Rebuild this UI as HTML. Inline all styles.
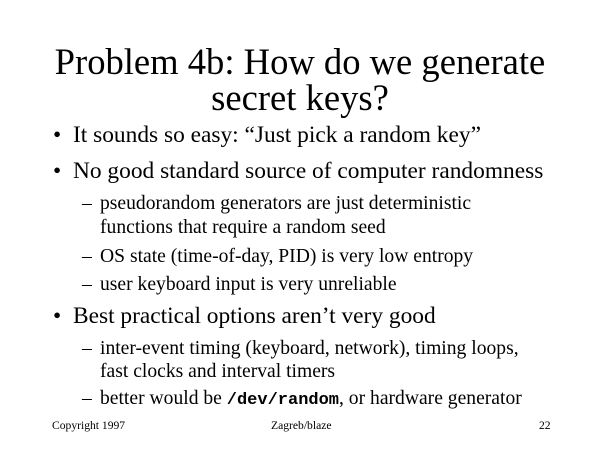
<!DOCTYPE html>
<html><head><style>
body{margin:0;width:600px;height:450px;background:#fff;position:relative;overflow:hidden;font-family:"Liberation Serif",serif;color:#000}
div{position:absolute;line-height:1;white-space:nowrap}
.t{font-size:36.6px;left:0;width:600px;text-align:center}
.b{font-size:23.4px;left:73px}
.bd{font-size:23.4px;left:53px}
.s{font-size:19.6px;left:100px}
.sd{font-size:19.6px;left:82px}
.f{font-size:11.6px}
code{font-family:"Liberation Mono",monospace;font-weight:bold;font-size:17px}
</style></head><body>
<div class="t" style="top:44px">Problem 4b: How do we generate</div>
<div class="t" style="top:80px">secret keys?</div>
<div class="bd" style="top:124px">•</div><div class="b" style="top:124px">It sounds so easy: “Just pick a random key”</div>
<div class="bd" style="top:160px">•</div><div class="b" style="top:160px">No good standard source of computer randomness</div>
<div class="sd" style="top:194px">–</div><div class="s" style="top:194px">pseudorandom generators are just deterministic</div>
<div class="s" style="top:218px">functions that require a random seed</div>
<div class="sd" style="top:247px">–</div><div class="s" style="top:247px">OS state (time-of-day, PID) is very low entropy</div>
<div class="sd" style="top:275px">–</div><div class="s" style="top:275px">user keyboard input is very unreliable</div>
<div class="bd" style="top:305px">•</div><div class="b" style="top:305px">Best practical options aren’t very good</div>
<div class="sd" style="top:339px">–</div><div class="s" style="top:339px">inter-event timing (keyboard, network), timing loops,</div>
<div class="s" style="top:362px">fast clocks and interval timers</div>
<div class="sd" style="top:389px">–</div><div class="s" style="top:389px">better would be <code>/dev/random</code>, or hardware generator</div>
<div class="f" style="top:420px;left:52px">Copyright 1997</div>
<div class="f" style="top:420px;left:271px">Zagreb/blaze</div>
<div class="f" style="top:420px;left:539px">22</div>
</body></html>
